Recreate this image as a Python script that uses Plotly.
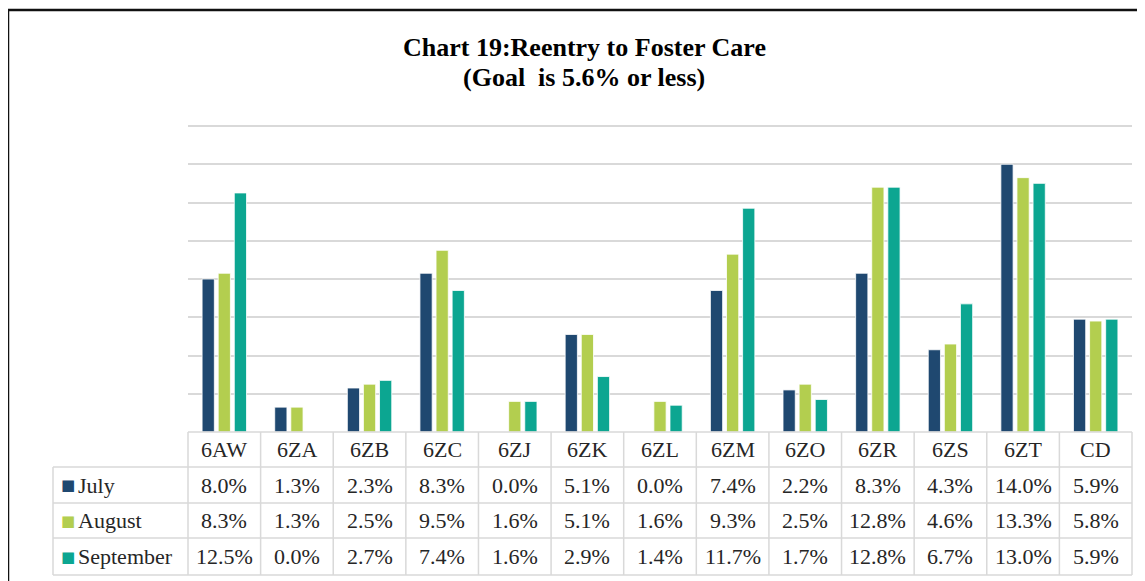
import plotly.graph_objects as go

categories = ["6AW", "6ZA", "6ZB", "6ZC", "6ZJ", "6ZK", "6ZL", "6ZM", "6ZO", "6ZR", "6ZS", "6ZT", "CD"]
july = [8.0, 1.3, 2.3, 8.3, 0.0, 5.1, 0.0, 7.4, 2.2, 8.3, 4.3, 14.0, 5.9]
august = [8.3, 1.3, 2.5, 9.5, 1.6, 5.1, 1.6, 9.3, 2.5, 12.8, 4.6, 13.3, 5.8]
september = [12.5, 0.0, 2.7, 7.4, 1.6, 2.9, 1.4, 11.7, 1.7, 12.8, 6.7, 13.0, 5.9]
series_names = ["July", "August", "September"]
series_colors = ["#1F4870", "#B3CE4F", "#0CA691"]

# page has an 8px body margin; figure is sized/shifted to compensate
OFF = 8
W, H = 1145 - OFF, 581 - OFF
FONT = "Liberation Serif, Times New Roman, serif"
TXT = "#262626"
GRID = "#D9D9D9"

def px(x):
    return (x - OFF) / W

def py(y):
    return 1 - (y - OFF) / H

plot_left, plot_right = 188, 1132
y_max_grid = 16
y_top = 16.3
plot_bottom = 432
unit_px = (432 - 126) / y_max_grid
plot_top = plot_bottom - y_top * unit_px
row_edges = [432, 467, 503, 538, 575]
label_left = 53

fig = go.Figure()
for name, vals, col in zip(series_names, [july, august, september], series_colors):
    fig.add_trace(go.Bar(
        x=categories, y=vals, name=name,
        marker=dict(color=col, line=dict(color="white", width=0.8)),
        hoverinfo="x+y+name",
    ))

shapes = []
n = len(categories)
cw = (plot_right - plot_left) / n
line_style = dict(color=GRID, width=1.5)
shapes.append(dict(type="line", xref="paper", yref="paper",
                   x0=px(plot_left), x1=px(plot_right), y0=py(row_edges[0]), y1=py(row_edges[0]), line=line_style))
for ry in row_edges[1:]:
    shapes.append(dict(type="line", xref="paper", yref="paper",
                       x0=px(label_left), x1=px(plot_right), y0=py(ry), y1=py(ry), line=line_style))
shapes.append(dict(type="line", xref="paper", yref="paper",
                   x0=px(label_left), x1=px(label_left), y0=py(row_edges[1]), y1=py(row_edges[-1]), line=line_style))
for i in range(n + 1):
    xx = plot_left + i * cw
    shapes.append(dict(type="line", xref="paper", yref="paper",
                       x0=px(xx), x1=px(xx), y0=py(row_edges[0]), y1=py(row_edges[-1]), line=line_style))
# outer frame (top and left)
shapes.append(dict(type="line", xref="paper", yref="paper", x0=px(8), x1=1, y0=py(10), y1=py(10),
                   line=dict(color="#111111", width=2.5)))
shapes.append(dict(type="line", xref="paper", yref="paper", x0=px(8), x1=px(8), y0=py(10), y1=0,
                   line=dict(color="#111111", width=2.5)))

def ann(text, x, y, size, color=TXT, xref="paper", xanchor="center", family=FONT):
    return dict(text=text, x=x, y=y, xref=xref, yref="paper", showarrow=False,
                xanchor=xanchor, yanchor="middle",
                font=dict(family=family, size=size, color=color))

annotations = []
annotations.append(ann("<b>Chart 19:Reentry to Foster Care</b>", px(584), py(47), 26, "#000000"))
annotations.append(ann("<b>(Goal\u00a0 is 5.6% or less)</b>", px(584), py(78), 26, "#000000"))
hdr_y = (row_edges[0] + row_edges[1]) / 2
for c in categories:
    annotations.append(ann(c, c, py(hdr_y), 22, xref="x"))
for r, (name, vals, col) in enumerate(zip(series_names, [july, august, september], series_colors)):
    yc = (row_edges[r + 1] + row_edges[r + 2]) / 2
    annotations.append(ann("■", px(59), py(yc), 15, col, xanchor="left", family="DejaVu Sans"))
    annotations.append(ann(name, px(76), py(yc), 22, xanchor="left"))
    for c, v in zip(categories, vals):
        annotations.append(ann(f"{v:.1f}%", c, py(yc), 22, xref="x"))

fig.update_layout(
    width=W, height=H,
    margin=dict(l=0, r=0, t=0, b=0),
    paper_bgcolor="white", plot_bgcolor="white",
    barmode="group", bargap=0.335, bargroupgap=0.24,
    showlegend=False,
    xaxis=dict(domain=[px(plot_left), px(plot_right)], showticklabels=False, showgrid=False,
               showline=False, zeroline=False, ticks="", fixedrange=True),
    yaxis=dict(domain=[py(plot_bottom), py(plot_top)], range=[0, y_top], dtick=2,
               showticklabels=False, showgrid=True, gridcolor=GRID, gridwidth=1.5,
               zeroline=False, showline=False, ticks="", fixedrange=True),
    shapes=shapes,
    annotations=annotations,
)

fig.write_html("out.html")
